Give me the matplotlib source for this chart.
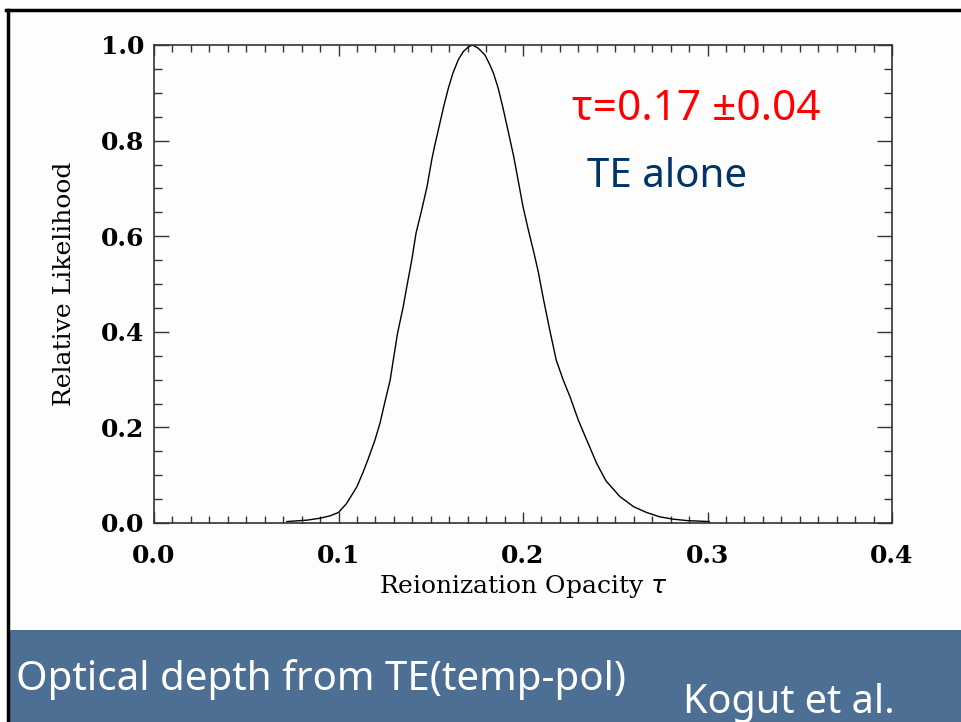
import numpy as np
import matplotlib.pyplot as plt
from matplotlib.lines import Line2D
from matplotlib.patches import Rectangle
from matplotlib.ticker import MultipleLocator

# likelihood curve
tau = [0.072, 0.083, 0.090, 0.0954, 0.100, 0.1044, 0.110, 0.1134, 0.116, 0.1198,
       0.1225, 0.1252, 0.128, 0.1297, 0.132, 0.1351, 0.137, 0.1397, 0.142, 0.1451,
       0.148, 0.1505, 0.152, 0.157, 0.1595, 0.162, 0.1649, 0.1676, 0.1704, 0.1727,
       0.1758, 0.1794, 0.1821, 0.184, 0.1866, 0.189, 0.192, 0.195, 0.1975, 0.200,
       0.2029, 0.206, 0.2083, 0.211, 0.2146, 0.218, 0.2218, 0.2255, 0.230, 0.2345,
       0.2399, 0.245, 0.2526, 0.260, 0.267, 0.274, 0.2815, 0.289, 0.301]
likelihood = [0.003, 0.006, 0.010, 0.015, 0.022, 0.041, 0.076, 0.107, 0.133, 0.174,
              0.209, 0.254, 0.299, 0.341, 0.397, 0.453, 0.494, 0.550, 0.606, 0.655,
              0.704, 0.759, 0.787, 0.871, 0.909, 0.941, 0.969, 0.986, 0.996, 1.0,
              0.993, 0.979, 0.958, 0.941, 0.909, 0.871, 0.819, 0.766, 0.714, 0.662,
              0.613, 0.564, 0.525, 0.470, 0.402, 0.341, 0.299, 0.264, 0.215, 0.174,
              0.125, 0.088, 0.055, 0.034, 0.022, 0.013, 0.008, 0.005, 0.003]

W, H = 961, 722
fig = plt.figure(figsize=(W / 100, H / 100), dpi=100)
fig.patch.set_facecolor("#fdfdfd")

# slide frame and bottom banner
fig.add_artist(Rectangle((9 / W, 0), 1, 92 / H, transform=fig.transFigure,
                         facecolor="#4d6f94", edgecolor="none"))
fig.add_artist(Line2D([7.5 / W, 7.5 / W], [0, 1 - 10 / H], transform=fig.transFigure,
                      color="black", lw=2.5))
fig.add_artist(Line2D([6 / W, 1], [1 - 10 / H, 1 - 10 / H], transform=fig.transFigure,
                      color="black", lw=2.5))

ax = fig.add_axes([154 / W, (H - 523) / H, 738 / W, 478 / H])
ax.set_facecolor("#fdfdfd")
ax.plot(tau, likelihood, color="black", lw=1.0)

ax.set_xlim(0, 0.4)
ax.set_ylim(0, 1.0)
ax.xaxis.set_major_locator(MultipleLocator(0.1))
ax.xaxis.set_minor_locator(MultipleLocator(0.01))
ax.yaxis.set_major_locator(MultipleLocator(0.2))
ax.yaxis.set_minor_locator(MultipleLocator(0.05))
ax.xaxis.set_major_formatter(lambda v, p: f"{v:.1f}")
ax.yaxis.set_major_formatter(lambda v, p: f"{v:.1f}")

for s in ax.spines.values():
    s.set_color("#333333")
    s.set_linewidth(1.2)

ax.tick_params(axis="both", which="both", direction="in", top=True, right=True,
               color="#333333", width=1.0)
ax.tick_params(axis="x", which="major", length=8, pad=15)
ax.tick_params(axis="x", which="minor", length=5)
ax.tick_params(axis="y", which="major", length=11, pad=7)
ax.tick_params(axis="y", which="minor", length=6)

for lab in ax.get_xticklabels() + ax.get_yticklabels():
    lab.set_fontfamily("DejaVu Serif")
    lab.set_fontweight("bold")
    lab.set_fontsize(18)

ax.set_xlabel(r"Reionization Opacity $\tau$", family="DejaVu Serif", fontsize=18, labelpad=4)
ax.set_ylabel("Relative Likelihood", family="DejaVu Serif", fontsize=18, labelpad=18)

fig.text(572 / W, 1 - 120 / H, "τ=0.17 ±0.04", color="#ff0000", fontsize=30.5,
         family=["Noto Sans", "DejaVu Sans"], va="baseline")
fig.text(587 / W, 1 - 187 / H, "TE alone", color="#003366", fontsize=29,
         family=["Noto Sans", "DejaVu Sans"], va="baseline")

fig.text(16 / W, 1 - 690 / H, "Optical depth from TE(temp-pol)", color="white",
         fontsize=29, family=["Noto Sans", "DejaVu Sans"], va="baseline")
fig.text(683 / W, 1 - 713 / H, "Kogut et al.", color="white",
         fontsize=28.5, family=["Noto Sans", "DejaVu Sans"], va="baseline")

fig.savefig("out.png", dpi=100, facecolor=fig.get_facecolor())
